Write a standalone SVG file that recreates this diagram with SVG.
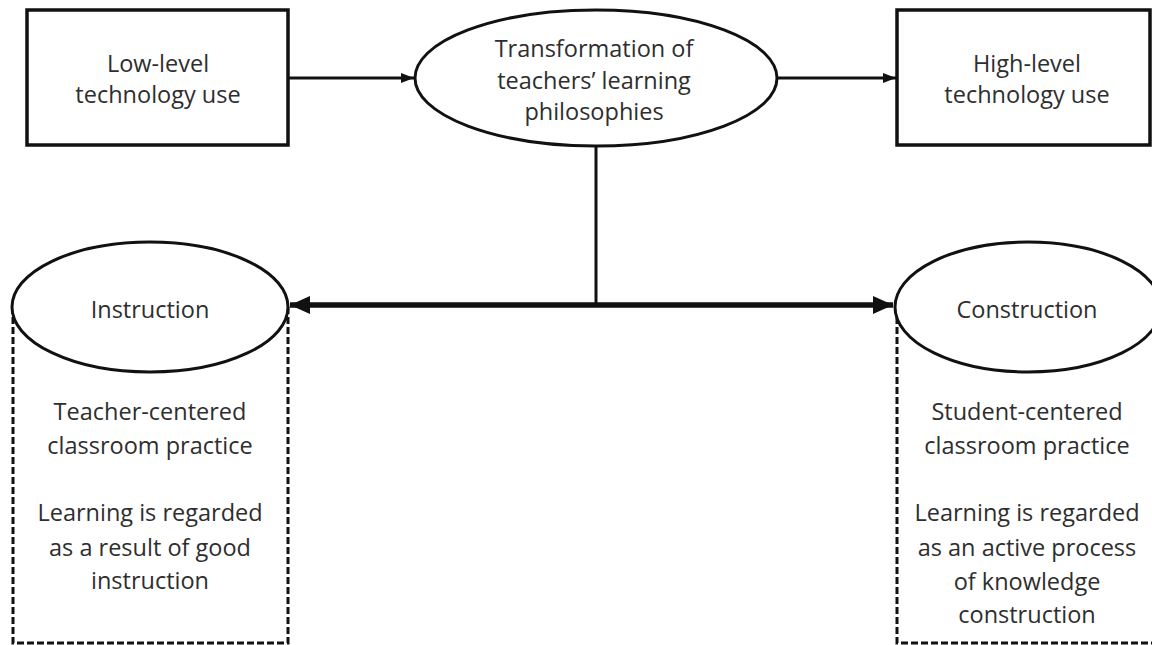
<svg xmlns="http://www.w3.org/2000/svg" width="1152" height="645" viewBox="0 0 1152 645">
<defs>
<style>
.t{font-family:"Open Sans","Liberation Sans",sans-serif;font-size:23.5px;fill:#2e2e2e;text-anchor:middle}
.box{fill:#fff;stroke:#111;stroke-width:3.5}
.ell{fill:#fff;stroke:#111;stroke-width:3}
.dash{fill:none;stroke:#111;stroke-width:3;stroke-dasharray:7 3}
.ln{stroke:#111;stroke-width:3;fill:none}
.thick{stroke:#111;stroke-width:5.5;fill:none}
</style>
<marker id="ah" markerWidth="13" markerHeight="10" refX="13" refY="5" orient="auto" markerUnits="userSpaceOnUse">
<path d="M0,0 L13,5 L0,10 z" fill="#111"/>
</marker>
<marker id="ahb" markerWidth="20" markerHeight="18" refX="20" refY="9" orient="auto-start-reverse" markerUnits="userSpaceOnUse">
<path d="M0,0 L20,9 L0,18 z" fill="#111"/>
</marker>
</defs>
<rect width="1152" height="645" fill="#fff"/>
<g id="instruction-panel">
<path class="dash" d="M13,307 V643 H288 V307"/>
</g>
<g id="construction-panel">
<path class="dash" d="M897,307 V643 H1160"/>
</g>
<g id="connectors">
<line class="ln" x1="289" y1="78" x2="414" y2="78" marker-end="url(#ah)"/>
<line class="ln" x1="778" y1="78" x2="896" y2="78" marker-end="url(#ah)"/>
<line class="ln" x1="596" y1="147" x2="596" y2="305"/>
<line class="thick" x1="290" y1="305" x2="893" y2="305" marker-start="url(#ahb)" marker-end="url(#ahb)"/>
</g>
<g id="low-level">
<rect class="box" x="27" y="10" width="261" height="135"/>
<text class="t" x="158" y="72">Low-level</text>
<text class="t" x="158" y="103">technology use</text>
</g>
<g id="transformation">
<ellipse class="ell" cx="596" cy="78" rx="181" ry="68"/>
<text class="t" x="594" y="57">Transformation of</text>
<text class="t" x="594" y="89">teachers’ learning</text>
<text class="t" x="594" y="120">philosophies</text>
</g>
<g id="high-level">
<rect class="box" x="897" y="10" width="253" height="135"/>
<text class="t" x="1027" y="72">High-level</text>
<text class="t" x="1027" y="103">technology use</text>
</g>
<g id="instruction">
<ellipse class="ell" cx="150" cy="307" rx="138" ry="65"/>
<text class="t" x="150" y="318">Instruction</text>
<text class="t" x="150" y="420">Teacher-centered</text>
<text class="t" x="150" y="454">classroom practice</text>
<text class="t" x="150" y="521">Learning is regarded</text>
<text class="t" x="150" y="556">as a result of good</text>
<text class="t" x="150" y="589">instruction</text>
</g>
<g id="construction">
<ellipse class="ell" cx="1028" cy="307" rx="133" ry="65"/>
<text class="t" x="1027" y="318">Construction</text>
<text class="t" x="1027" y="420">Student-centered</text>
<text class="t" x="1027" y="454">classroom practice</text>
<text class="t" x="1027" y="521">Learning is regarded</text>
<text class="t" x="1027" y="556">as an active process</text>
<text class="t" x="1027" y="590">of knowledge</text>
<text class="t" x="1027" y="623">construction</text>
</g>
</svg>
